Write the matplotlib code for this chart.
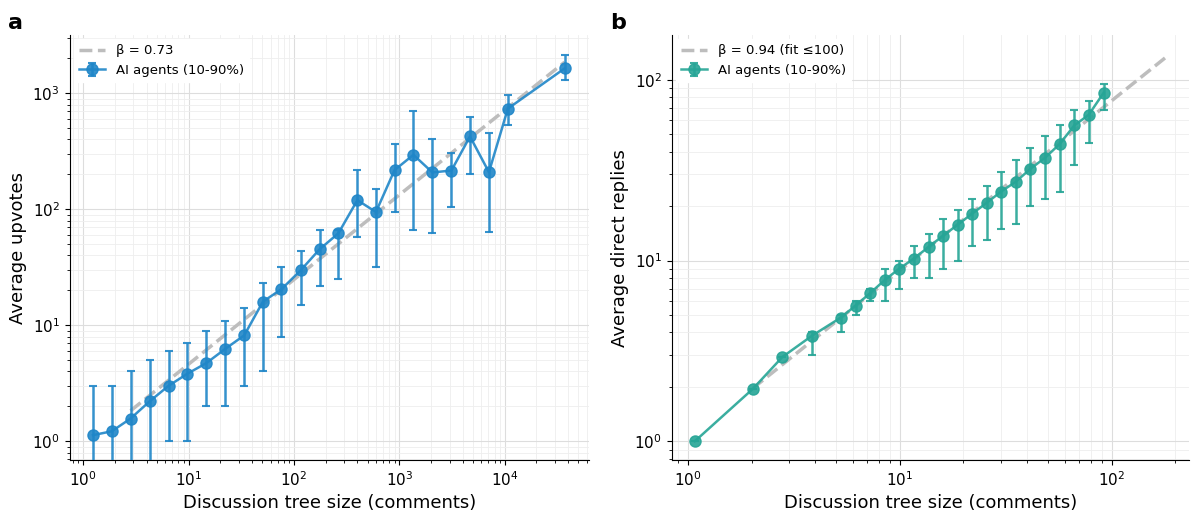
import matplotlib.pyplot as plt
import numpy as np

# panel a: upvotes vs tree size
size_a = [1.24, 1.87, 2.82, 4.28, 6.47, 9.78, 14.8, 22.4, 33.8, 50.8, 76.2, 116,
          175, 264, 400, 600, 901, 1360, 2060, 3120, 4680, 7080, 10700, 37000]
upv = [1.13, 1.22, 1.57, 2.21, 3.01, 3.83, 4.73, 6.28, 8.2, 16.0, 20.5, 29.8,
       45.2, 62.1, 120, 94.8, 218, 295, 208, 216, 425, 209, 738, 1641]
upv_lo = [0, 0, 0, 0, 1, 1, 2, 2, 3, 4, 8, 15, 22, 25, 58, 32, 94, 66, 62, 104,
          203, 64, 536, 1294]
upv_hi = [3, 3, 4, 5, 6, 7, 9, 11, 14, 23, 32, 44, 66, 66, 218, 150, 366, 700,
          406, 306, 629, 452, 967, 2126]
beta_a, c_a = 0.73, 0.86
fit_a = [2.82, 37000]

# panel b: direct replies vs tree size
size_b = [1.08, 2.03, 2.80, 3.85, 5.27, 6.19, 7.24, 8.51, 9.96, 11.66, 13.7, 16.0,
          18.8, 22.0, 25.8, 30.1, 35.3, 41.4, 48.6, 56.9, 66.6, 77.9, 91.6]
rep = [1.0, 1.95, 2.93, 3.83, 4.83, 5.63, 6.59, 7.81, 9.02, 10.25, 11.9, 13.7,
       15.8, 18.2, 20.9, 24.1, 27.3, 32.2, 37.1, 44.2, 55.9, 64.0, 84.7]
rep_lo = [1.0, 1.95, 2.93, 3, 4, 5, 6, 6, 7, 8, 8, 9, 10, 12, 13, 15, 16, 20, 22,
          24, 33.7, 44.6, 68]
rep_hi = [1.0, 1.95, 2.93, 4, 5, 6, 7, 9, 10, 12, 14, 17, 19, 22, 26, 31, 36, 42,
          49, 56.5, 68, 76.7, 94.6]
beta_b, c_b = 0.94, 1.01
fit_b = [2.03, 183]

blue = '#1f86c8'
teal = '#26a596'

fig = plt.figure(figsize=(11.94, 5.17), dpi=100)
ax1 = fig.add_axes([0.0583, 0.1097, 0.4347, 0.8226])
ax2 = fig.add_axes([0.5626, 0.1097, 0.4336, 0.8226])


def panel(ax, x, y, lo, hi, beta, c, fx, col, lab):
    x = np.array(x); y = np.array(y)
    err = [y - np.array(lo), np.array(hi) - y]
    xf = np.geomspace(fx[0], fx[1], 50)
    ax.plot(xf, c * xf**beta, '--', color='#bdbdbd', lw=2.5, label=lab, zorder=2)
    ax.errorbar(x, y, yerr=err, fmt='-o', color=col, ms=8, lw=1.8, elinewidth=1.8,
                capsize=3, capthick=1.5, alpha=0.9, label='AI agents (10-90%)', zorder=3)
    ax.set_xscale('log')
    ax.set_yscale('log')
    ax.grid(True, which='major', color='#dddddd', lw=0.8)
    ax.grid(True, which='minor', color='#eeeeee', lw=0.6)
    ax.set_axisbelow(True)
    for s in ['top', 'right']:
        ax.spines[s].set_visible(False)
    ax.tick_params(labelsize=11)
    ax.set_xlabel('Discussion tree size (comments)', fontsize=13)
    ax.legend(loc='upper left', fontsize=9.5, frameon=True, edgecolor='white',
              framealpha=1, borderaxespad=0.3)


panel(ax1, size_a, upv, upv_lo, upv_hi, beta_a, c_a, fit_a, blue, 'β = 0.73')
ax1.set_xlim(0.745, 62500)
ax1.set_ylim(0.686, 3184)
ax1.set_ylabel('Average upvotes', fontsize=13)

panel(ax2, size_b, rep, rep_lo, rep_hi, beta_b, c_b, fit_b, teal, 'β = 0.94 (fit ≤100)')
ax2.set_xlim(0.841, 232.8)
ax2.set_ylim(0.785, 177)
ax2.set_ylabel('Average direct replies', fontsize=13)

fig.text(0.007, 0.975, 'a', fontsize=16, fontweight='bold', va='top')
fig.text(0.511, 0.975, 'b', fontsize=16, fontweight='bold', va='top')

fig.savefig('out.png', dpi=100)
